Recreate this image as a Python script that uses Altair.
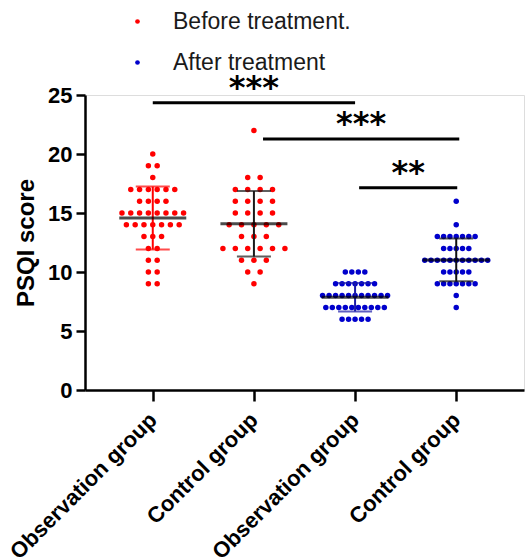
import json
import altair as alt
import pandas as pd

# ---- data ----
group_labels = ["Observation group", "Control group", "Observation group", "Control group"]
group_phase = ["Before treatment.", "Before treatment.", "After treatment", "After treatment"]

obs_before = [20, 19, 19, 18, 17, 17, 17, 17, 17, 17, 16, 16, 16, 16,
              15, 15, 15, 15, 15, 15, 15, 15, 14, 14, 14, 14, 14, 14, 14,
              13, 13, 13, 12, 12, 11, 11, 10, 10, 9, 9]
ctrl_before = [22, 18, 18, 17, 17, 17, 17, 16, 16, 16, 16, 15, 15, 15, 15,
               14, 14, 14, 14, 14, 13, 13, 13, 12, 12, 12, 12, 12, 12,
               11, 11, 11, 10, 10, 9]
obs_after = [10, 10, 10, 10, 9, 9, 9, 9, 9, 9, 9,
             8, 8, 8, 8, 8, 8, 8, 8, 8, 8, 8,
             7, 7, 7, 7, 7, 7, 7, 7, 7, 7, 6, 6, 6, 6, 6]
ctrl_after = [16, 14, 13, 13, 13, 13, 13, 13, 13, 12, 12, 12, 12, 12,
              11, 11, 11, 11, 11, 11, 11, 11, 11, 11, 11,
              10, 10, 10, 10, 10, 9, 9, 9, 9, 9, 9, 9, 8, 7]
series = [obs_before, ctrl_before, obs_after, ctrl_after]

# significance brackets (category index positions) and labels
sig_x1 = [0.0, 1.09, 2.04]
sig_x2 = [2.0, 3.03, 3.01]
sig_y = [24.35, 21.27, 17.14]
sig_label = ["***", "***", "**"]

# ---- styles ----
phase_colors = ["#ff0000", "#0000cc"]
err_colors = ["#ff0000", "#1a1a1a", "#1a1aa8", "#111111"]
dot_gap_px = [8.8, 12.4, 6.5, 6.3]
W, H = 439, 295
XPAD = 0.67
px_per_unit = W / (3 + 2 * XPAD)

rows = []
for gi, vals in enumerate(series):
    counts = {}
    for v in vals:
        counts[v] = counts.get(v, 0) + 1
    seen = {}
    for v in vals:
        i = seen.get(v, 0)
        seen[v] = i + 1
        off = (i - (counts[v] - 1) / 2) * dot_gap_px[gi] / px_per_unit
        rows.append({"gi": gi, "value": v, "phase": group_phase[gi], "xpos": gi + off})
df = pd.DataFrame(rows)

sig_df = pd.DataFrame({"x1": sig_x1, "x2": sig_x2, "y": sig_y, "label": sig_label})

FONT = "Liberation Sans"
xscale = alt.Scale(domain=[-XPAD, 3 + XPAD], nice=False, zero=False)
yscale = alt.Scale(domain=[0, 25], nice=False)

label_expr = json.dumps(group_labels) + "[datum.value]"
x_axis = alt.Axis(values=[0, 1, 2, 3], labelExpr=label_expr, title=None,
                  labelAngle=-45, labelAlign="right", labelBaseline="middle",
                  labelFont=FONT, labelFontSize=22, labelFontWeight="bold",
                  labelColor="black", labelOverlap=False, labelLimit=0, labelBound=False,
                  tickSize=11, tickWidth=2.5, tickColor="black",
                  domainColor="black", domainWidth=2.5, labelPadding=15, grid=False)
y_axis = alt.Axis(values=[0, 5, 10, 15, 20, 25], title="PSQI score",
                  labelFont=FONT, labelFontSize=22, labelFontWeight="bold",
                  labelColor="black", titleFont=FONT, titleFontSize=24,
                  titleFontWeight="bold", titleColor="black", titlePadding=9,
                  tickSize=9, tickWidth=2.5, tickColor="black",
                  domainColor="black", domainWidth=2.5, labelPadding=4, grid=False)

points = alt.Chart(df).mark_circle(size=30, opacity=1).encode(
    x=alt.X("xpos:Q", scale=xscale, axis=x_axis),
    y=alt.Y("value:Q", scale=yscale, axis=y_axis),
    color=alt.Color("phase:N",
                    scale=alt.Scale(domain=["Before treatment.", "After treatment"], range=phase_colors),
                    legend=alt.Legend(orient="none", legendX=41, legendY=-85, title=None,
                                      labelFont=FONT, labelFontSize=23, labelColor="#1a1a1a",
                                      labelLimit=0,
                                      symbolType="circle", symbolSize=22, symbolStrokeWidth=0,
                                      labelOffset=24, rowPadding=17, padding=0)),
)

agg = alt.Chart(df).transform_aggregate(
    m="mean(value)", s="stdev(value)", groupby=["gi"]
).transform_calculate(
    lo="datum.m - datum.s", hi="datum.m + datum.s",
    ecol=json.dumps(err_colors) + "[datum.gi]",
)

err_rule = agg.mark_rule(strokeWidth=2).encode(
    x=alt.X("gi:Q", scale=xscale, axis=x_axis),
    y=alt.Y("lo:Q", scale=yscale, axis=y_axis),
    y2="hi:Q",
    color=alt.Color("ecol:N", scale=None),
)
caps = agg.transform_fold(["lo", "hi"], as_=["k", "cap"]).mark_tick(
    orient="horizontal", size=34, thickness=2
).encode(
    x=alt.X("gi:Q", scale=xscale, axis=x_axis),
    y=alt.Y("cap:Q", scale=yscale, axis=y_axis),
    color=alt.Color("ecol:N", scale=None),
)
mean_tick = agg.mark_tick(orient="horizontal", size=67, thickness=3, color="black").encode(
    x=alt.X("gi:Q", scale=xscale, axis=x_axis),
    y=alt.Y("m:Q", scale=yscale, axis=y_axis),
)

sig_rule = alt.Chart(sig_df).mark_rule(strokeWidth=3, color="black").encode(
    x=alt.X("x1:Q", scale=xscale, axis=x_axis),
    x2="x2:Q",
    y=alt.Y("y:Q", scale=yscale, axis=y_axis),
)
sig_text = alt.Chart(sig_df).transform_calculate(xm="(datum.x1 + datum.x2) / 2").mark_text(
    font="DejaVu Sans", fontWeight="bold", fontSize=32, baseline="alphabetic", dy=-5, color="black"
).encode(
    x=alt.X("xm:Q", scale=xscale, axis=x_axis),
    y=alt.Y("y:Q", scale=yscale, axis=y_axis),
    text="label:N",
)

chart = alt.layer(points, err_rule, caps, mean_tick, sig_rule, sig_text).resolve_scale(
    color="independent"
).properties(
    width=W, height=H,
    autosize=alt.AutoSizeParams(type="none"),
    padding={"left": 85, "top": 95, "right": 1, "bottom": 168},
).configure_view(stroke=None).configure(background="white")

chart.save("out.html", embed_options={"renderer": "svg", "actions": False})
